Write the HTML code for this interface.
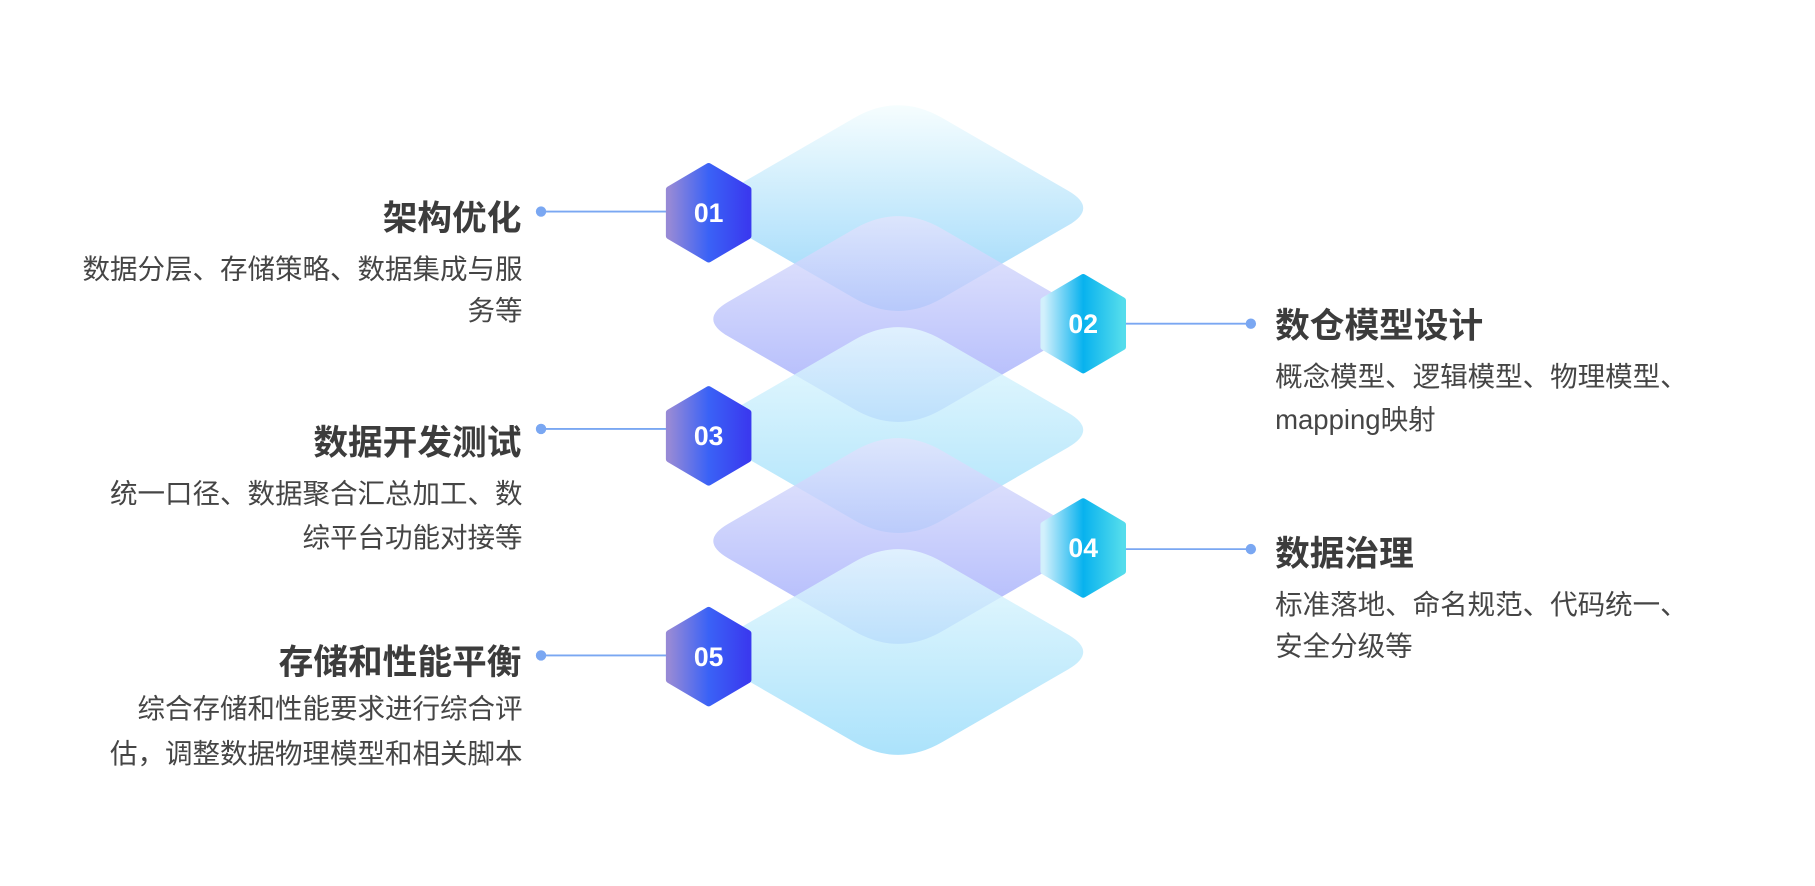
<!DOCTYPE html>
<html><head><meta charset="utf-8"><style>
html,body{margin:0;padding:0;background:#fff;}
svg{display:block}
.t{font-family:"Liberation Sans","Noto Sans CJK SC",sans-serif;font-weight:bold;font-size:30px;fill:#3c3c3c}
.d{font-family:"Liberation Sans","Noto Sans CJK SC",sans-serif;font-size:23.8px;fill:#454545}
.n{font-family:"Liberation Sans",sans-serif;font-weight:bold;font-size:23px;fill:#fff}
</style></head><body>
<svg width="1815" height="886" viewBox="0 0 1570 766.4" xmlns="http://www.w3.org/2000/svg">
<defs>
<linearGradient id="cy" x1="0" y1="0" x2="0" y2="1">
<stop offset="0" stop-color="#e6f9fe"/><stop offset="1" stop-color="#96dbfa"/></linearGradient>
<linearGradient id="cy1" x1="0" y1="0" x2="0" y2="1">
<stop offset="0" stop-color="#f4fdfe"/><stop offset="1" stop-color="#86cff9"/></linearGradient>
<linearGradient id="pu" x1="0" y1="0" x2="0" y2="1">
<stop offset="0" stop-color="#e2e4fc"/><stop offset="1" stop-color="#96a2fa"/></linearGradient>
<linearGradient id="hl" x1="0" y1="0" x2="1" y2="0">
<stop offset="0" stop-color="#9689d6"/><stop offset="0.5" stop-color="#3a62f6"/><stop offset="1" stop-color="#3a3aef"/></linearGradient>
<linearGradient id="hr" x1="0" y1="0" x2="1" y2="0">
<stop offset="0" stop-color="#d2f0fc"/><stop offset="0.5" stop-color="#08b2ee"/><stop offset="1" stop-color="#54dcec"/></linearGradient>
<path id="dm" d="M739,-78 Q777,-100 815,-78 L924,-15 Q950,0 924,15 L815,78 Q777,100 739,78 L630,15 Q604,0 630,-15 Z"/>
<polygon id="hx" points="0,-40 34,-20 34,20 0,40 -34,20 -34,-20" stroke-width="6" stroke-linejoin="round"/>
</defs>

<use href="#dm" transform="translate(0,180)" fill="url(#cy1)" opacity="0.85"/>
<use href="#dm" transform="translate(0,276)" fill="url(#pu)" opacity="0.8"/>
<use href="#dm" transform="translate(0,372)" fill="url(#cy)" opacity="0.8"/>
<use href="#dm" transform="translate(0,468)" fill="url(#pu)" opacity="0.8"/>
<use href="#dm" transform="translate(0,564)" fill="url(#cy)" opacity="0.8"/>

<g stroke="#7aa7f2" stroke-width="1.6">
<line x1="468" y1="183" x2="580" y2="183"/>
<line x1="468" y1="371" x2="580" y2="371"/>
<line x1="468" y1="567" x2="580" y2="567"/>
<line x1="972" y1="280" x2="1082" y2="280"/>
<line x1="972" y1="475" x2="1082" y2="475"/>
</g>
<g fill="#7aa7f2">
<circle cx="468" cy="183" r="4.5"/><circle cx="468" cy="371" r="4.5"/><circle cx="468" cy="567" r="4.5"/>
<circle cx="1082" cy="280" r="4.5"/><circle cx="1082" cy="475" r="4.5"/>
</g>

<use href="#hx" transform="translate(613,184)" fill="url(#hl)" stroke="url(#hl)"/>
<use href="#hx" transform="translate(613,377)" fill="url(#hl)" stroke="url(#hl)"/>
<use href="#hx" transform="translate(613,568)" fill="url(#hl)" stroke="url(#hl)"/>
<use href="#hx" transform="translate(937,280)" fill="url(#hr)" stroke="url(#hr)"/>
<use href="#hx" transform="translate(937,474)" fill="url(#hr)" stroke="url(#hr)"/>
<text class="n" x="613" y="192" text-anchor="middle">01</text>
<text class="n" x="613" y="385" text-anchor="middle">03</text>
<text class="n" x="613" y="576" text-anchor="middle">05</text>
<text class="n" x="937" y="288" text-anchor="middle">02</text>
<text class="n" x="937" y="482" text-anchor="middle">04</text>

<g text-anchor="end">
<text class="t" x="451" y="199">架构优化</text>
<text class="d" x="452" y="241">数据分层、存储策略、数据集成与服</text>
<text class="d" x="452" y="277">务等</text>
<text class="t" x="451" y="393">数据开发测试</text>
<text class="d" x="452" y="435">统一口径、数据聚合汇总加工、数</text>
<text class="d" x="452" y="473">综平台功能对接等</text>
<text class="t" x="451" y="583">存储和性能平衡</text>
<text class="d" x="452" y="621">综合存储和性能要求进行综合评</text>
<text class="d" x="452" y="660">估，调整数据物理模型和相关脚本</text>
</g>
<text class="t" x="1103" y="292">数仓模型设计</text>
<text class="d" x="1103" y="334">概念模型、逻辑模型、物理模型、</text>
<text class="d" x="1103" y="371">mapping映射</text>
<text class="t" x="1103" y="489">数据治理</text>
<text class="d" x="1103" y="531">标准落地、命名规范、代码统一、</text>
<text class="d" x="1103" y="567">安全分级等</text>
</svg>
</body></html>
